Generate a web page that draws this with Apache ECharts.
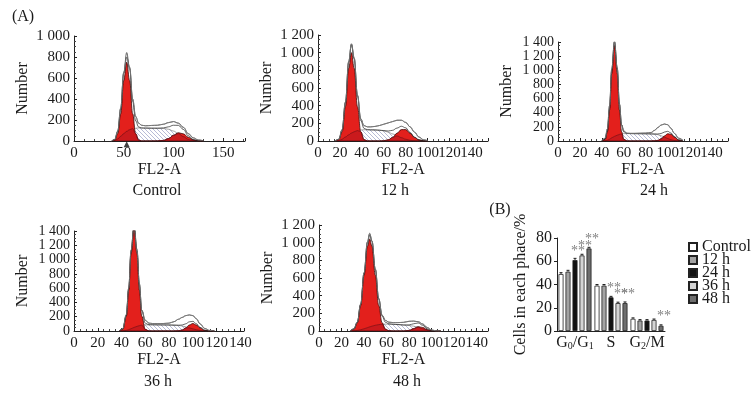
<!DOCTYPE html>
<html><head><meta charset="utf-8">
<script src="https://cdn.jsdelivr.net/npm/echarts@6/dist/echarts.min.js"></script>
<style>html,body{margin:0;padding:0;background:#fff}#c{width:753px;height:394px}</style>
</head><body><div id="c"></div>
<script>
// ---------- Panel A: histograms (x = FL2-A channel, y = count) ----------
const ctrlX   = [38, 41, 44, 47, 50, 53, 56, 59, 62, 65, 68, 72, 78, 84, 90, 95, 100, 105, 110, 115, 120, 125, 130];
const ctrlG1  = [0, 10, 70, 260, 575, 750, 575, 260, 70, 10, 0, 0, 0, 0, 0, 0, 0, 0, 0, 0, 0, 0, 0];
const ctrlS   = [0, 5, 20, 45, 70, 92, 108, 118, 122, 124, 124, 123, 122, 121, 119, 112, 95, 70, 42, 15, 3, 0, 0];
const ctrlG2  = [0, 0, 0, 0, 0, 0, 0, 0, 0, 0, 0, 0, 0, 1, 6, 23, 55, 79, 68, 35, 11, 2, 0];
const ctrlDat = [0, 15, 95, 315, 650, 800, 700, 400, 235, 170, 150, 145, 148, 150, 160, 175, 185, 170, 130, 70, 30, 10, 2];
const ctrlMarker = [53];

const h12X   = [16, 19, 22, 25, 28, 30.5, 33, 36, 39, 42, 45, 48, 52, 56, 60, 64, 68, 72, 76, 80, 84, 88, 92, 96, 100];
const h12G1  = [1, 16, 105, 389, 823, 1000, 823, 389, 105, 16, 1, 0, 0, 0, 0, 0, 0, 0, 0, 0, 0, 0, 0, 0, 0];
const h12S   = [0, 5, 20, 45, 70, 90, 105, 118, 125, 127, 127, 126, 125, 122, 115, 100, 80, 58, 38, 20, 8, 2, 0, 0, 0];
const h12G2  = [0, 0, 0, 0, 0, 0, 0, 0, 0, 0, 0, 0, 0, 0, 3, 13, 41, 88, 129, 129, 88, 41, 13, 3, 0];
const h12Dat = [2, 20, 130, 440, 900, 1100, 940, 520, 250, 175, 160, 160, 165, 175, 190, 205, 220, 235, 235, 210, 160, 100, 45, 15, 3];

const h24X   = [40, 43, 45, 47, 49, 51.5, 54, 56, 58, 60, 63, 66, 70, 75, 80, 85, 88, 91, 94, 97, 100, 103, 106, 110, 114];
const h24G1  = [1, 24, 129, 438, 954, 1350, 954, 438, 129, 24, 1, 0, 0, 0, 0, 0, 0, 0, 0, 0, 0, 0, 0, 0, 0];
const h24S   = [0, 3, 10, 25, 45, 65, 82, 93, 100, 104, 105, 105, 104, 103, 102, 100, 97, 90, 75, 55, 35, 18, 7, 1, 0];
const h24G2  = [0, 0, 0, 0, 0, 0, 0, 0, 0, 0, 0, 0, 0, 0, 0, 0, 2, 9, 31, 71, 102, 95, 57, 14, 2];
const h24Dat = [3, 40, 170, 500, 1020, 1400, 1030, 520, 230, 140, 110, 108, 108, 110, 112, 120, 150, 190, 225, 240, 230, 180, 110, 40, 8];

const h36X   = [38, 41, 44, 46, 48, 50.5, 53, 55, 57, 60, 63, 66, 70, 75, 80, 84, 88, 91, 94, 97, 100, 103, 106, 110, 114, 118];
const h36G1  = [1, 23, 207, 569, 1081, 1440, 1081, 569, 207, 23, 1, 0, 0, 0, 0, 0, 0, 0, 0, 0, 0, 0, 0, 0, 0, 0];
const h36S   = [0, 2, 8, 18, 32, 50, 65, 75, 82, 86, 87, 87, 86, 85, 84, 82, 78, 70, 58, 44, 30, 17, 8, 2, 0, 0];
const h36G2  = [0, 0, 0, 0, 0, 0, 0, 0, 0, 0, 0, 0, 0, 0, 0, 0, 3, 14, 43, 84, 105, 84, 43, 9, 1, 0];
const h36Dat = [2, 30, 230, 600, 1130, 1470, 1120, 660, 290, 150, 110, 105, 105, 105, 110, 130, 165, 190, 215, 225, 215, 170, 100, 35, 8, 1];

const h48X   = [28, 31, 34, 37, 40, 43, 45, 47, 50, 53, 56, 59, 62, 66, 70, 75, 80, 84, 88, 92, 96, 100, 104, 108];
const h48G1  = [3, 21, 92, 289, 631, 960, 1040, 960, 631, 289, 92, 21, 3, 0, 0, 0, 0, 0, 0, 0, 0, 0, 0, 0];
const h48S   = [0, 2, 6, 14, 25, 38, 47, 55, 65, 72, 77, 78, 78, 76, 73, 68, 62, 55, 42, 25, 10, 3, 0, 0];
const h48G2  = [0, 0, 0, 0, 0, 0, 0, 0, 0, 0, 0, 0, 0, 0, 0, 0, 7, 27, 49, 40, 15, 3, 0, 0];
const h48Dat = [3, 25, 100, 305, 660, 1010, 1105, 1020, 700, 370, 180, 120, 100, 95, 95, 98, 110, 112, 105, 80, 40, 12, 2, 0];

const panelTitles = ['Control', '12 h', '24 h', '36 h', '48 h'];
const xMax   = [172, 155, 155, 143, 150];
const xStep  = [50, 20, 20, 20, 20];
const yMax   = [1000, 1200, 1400, 1400, 1200];

// ---------- Panel B: cell cycle distribution (%) ----------
const phases = ['G0/G1', 'S', 'G2/M'];
const groups = ['Control', '12 h', '24 h', '36 h', '48 h'];
const pctControl = [49, 39, 10.5];
const pct12h     = [51, 39, 9];
const pct24h     = [61, 29, 9];
const pct36h     = [65, 24, 9.5];
const pct48h     = [71, 24, 4.5];
const errControl = [1.2, 1.0, 0.8];
const err12h     = [1.2, 1.0, 0.8];
const err24h     = [1.5, 0.8, 0.8];
const err36h     = [1.0, 0.8, 0.8];
const err48h     = [1.0, 1.0, 0.8];
const sigControl = ['', '', ''];
const sig12h     = ['', '', ''];
const sig24h     = ['**', '**', ''];
const sig36h     = ['**', '**', ''];
const sig48h     = ['**', '**', '**'];

// ---------- chart ----------
const F = '"Liberation Serif","Times New Roman",serif';
const TXT = '#1a1a1a';

function hatchCanvas() {
  const c = document.createElement('canvas'); c.width = 4; c.height = 4;
  const g = c.getContext('2d');
  g.fillStyle = '#fff'; g.fillRect(0, 0, 4, 4);
  g.strokeStyle = '#a4a9cc'; g.lineWidth = 0.8;
  g.beginPath();
  g.moveTo(0, 0); g.lineTo(4, 4);
  g.moveTo(-1, 3); g.lineTo(1, 5);
  g.moveTo(3, -1); g.lineTo(5, 1);
  g.stroke();
  return c;
}
const hatch = hatchCanvas();

const gridsA = [
  {left: 74, top: 36, width: 171, height: 105},
  {left: 318, top: 35, width: 170, height: 106},
  {left: 558, top: 42, width: 170, height: 99},
  {left: 74, top: 231, width: 170, height: 100},
  {left: 319, top: 225, width: 169, height: 106}
];
const gridB = {left: 557, top: 238, width: 108, height: 93};

function thousands(v) {
  if (v >= 1000) { const r = v % 1000; return Math.floor(v / 1000) + ' ' + String(r).padStart(3, '0'); }
  return String(v);
}

const xAxes = [], yAxes = [], series = [];
const panels = [
  [ctrlX, ctrlG1, ctrlS, ctrlG2, ctrlDat],
  [h12X, h12G1, h12S, h12G2, h12Dat],
  [h24X, h24G1, h24S, h24G2, h24Dat],
  [h36X, h36G1, h36S, h36G2, h36Dat],
  [h48X, h48G1, h48S, h48G2, h48Dat]
];
panels.forEach((p, i) => {
  const [xs, g1, s, g2, dat] = p;
  xAxes.push({
    gridIndex: i, type: 'value', min: 0, max: xMax[i], interval: xStep[i],
    name: 'FL2-A', nameLocation: 'middle', nameGap: i < 3 ? 19 : 21,
    nameTextStyle: {fontFamily: F, fontSize: 16, color: TXT},
    axisLine: {lineStyle: {color: '#222', width: 1}},
    axisTick: {inside: true, length: 3, lineStyle: {color: '#222'}},
    minorTick: {show: true, splitNumber: i === 0 ? 5 : 4, length: 2, lineStyle: {color: '#444'}},
    axisLabel: {showMaxLabel: false, hideOverlap: false, margin: 5, fontFamily: F, fontSize: 15, color: TXT},
    splitLine: {show: false}
  });
  yAxes.push({
    gridIndex: i, type: 'value', min: 0, max: yMax[i], interval: 200,
    name: 'Number', nameLocation: 'middle', nameGap: 43,
    nameTextStyle: {fontFamily: F, fontSize: 16, color: TXT},
    axisLine: {show: true, lineStyle: {color: '#222', width: 1}},
    axisTick: {show: true, inside: true, length: 3, lineStyle: {color: '#222'}},
    minorTick: {show: true, splitNumber: 4, length: 2, lineStyle: {color: '#444'}},
    axisLabel: {margin: 4, hideOverlap: false, fontFamily: F, fontSize: yMax[i] > 1200 ? 14 : 15, lineHeight: 13, color: TXT, formatter: thousands},
    splitLine: {show: false}
  });
  const pts = a => xs.map((x, j) => [x, a[j]]);
  const ov = xs.map((x, j) => Math.min(s[j], Math.max(g1[j], g2[j])));
  const fit = xs.map((x, j) => g1[j] + s[j] + g2[j]);
  const base = {type: 'line', xAxisIndex: i, yAxisIndex: i, symbol: 'none', smooth: 0.4, smoothMonotone: 'x', silent: true, animation: false};
  series.push(
    Object.assign({}, base, {data: pts(dat), lineStyle: {color: '#777', width: 1}, areaStyle: {color: '#fff', opacity: 1}, z: 1}),
    Object.assign({}, base, {data: pts(s), lineStyle: {color: '#666', width: 0.6}, areaStyle: {color: {image: hatch, repeat: 'repeat'}, opacity: 1}, z: 2}),
    Object.assign({}, base, {data: pts(g1), lineStyle: {color: '#3a0808', width: 0.8}, areaStyle: {color: '#e3201c', opacity: 1}, z: 3}),
    Object.assign({}, base, {data: pts(g2), lineStyle: {color: '#3a0808', width: 0.8}, areaStyle: {color: '#e3201c', opacity: 1}, z: 3}),
    Object.assign({}, base, {data: pts(ov), lineStyle: {color: '#6a1018', width: 0.6}, areaStyle: {color: '#9a1020', opacity: 0.35}, z: 4}),
    Object.assign({}, base, {data: pts(fit), lineStyle: {color: '#222', width: 0.7}, z: 5}),
    Object.assign({}, base, {data: pts(dat), lineStyle: {color: '#777', width: 0.9}, z: 6})
  );
});
// marker triangle under the control G1 peak
series.push({type: 'scatter', xAxisIndex: 0, yAxisIndex: 0, clip: false, silent: true, symbol: 'triangle', symbolSize: 6,
  itemStyle: {color: '#111'}, data: ctrlMarker.map(x => [x, -32]), z: 7});

// Panel B axes
xAxes.push({
  gridIndex: 5, type: 'category', data: phases,
  axisLine: {lineStyle: {color: '#222', width: 1}}, axisTick: {show: false},
  axisLabel: {interval: 0, hideOverlap: false, margin: 4, color: TXT, fontFamily: F, fontSize: 16,
    formatter: v => v === 'G0/G1' ? 'G{s|0}/G{s|1}' : (v === 'G2/M' ? 'G{s|2}/M' : v),
    rich: {s: {fontSize: 10, fontFamily: F, color: TXT, verticalAlign: 'bottom', lineHeight: 10}}}
});
yAxes.push({
  gridIndex: 5, type: 'value', min: 0, max: 80, interval: 20,
  name: 'Cells in each phace/%', nameLocation: 'middle', nameGap: 28,
  nameTextStyle: {fontFamily: F, fontSize: 16, color: TXT},
  axisLine: {show: true, lineStyle: {color: '#222', width: 1}},
  axisTick: {show: true, length: 3, lineStyle: {color: '#222'}},
  axisLabel: {margin: 5, fontFamily: F, fontSize: 16, color: TXT},
  splitLine: {show: false}
});
const pctAll = [pctControl, pct12h, pct24h, pct36h, pct48h];
const errAll = [errControl, err12h, err24h, err36h, err48h];
const sigAll = [sigControl, sig12h, sig24h, sig36h, sig48h];
const barColors = ['#ffffff', '#a3a3a3', '#111111', '#d4d4d4', '#6e6e6e'];
groups.forEach((g, k) => {
  series.push({
    type: 'bar', name: g, xAxisIndex: 5, yAxisIndex: 5, data: pctAll[k],
    barWidth: 5, barGap: '40%', animation: false,
    itemStyle: {color: barColors[k], borderColor: '#222', borderWidth: 0.8},
    label: {show: true, position: 'top', distance: 2, offset: [3, 0], formatter: p => sigAll[k][p.dataIndex],
      color: '#808080', fontSize: 14, fontFamily: F}
  });
});
const errData = [];
groups.forEach((g, k) => phases.forEach((ph, c) => errData.push([c, pctAll[k][c], errAll[k][c], k])));
series.push({
  type: 'custom', xAxisIndex: 5, yAxisIndex: 5, data: errData, silent: true, animation: false, z: 5,
  encode: {x: 0, y: 1},
  renderItem: (params, api) => {
    const c = api.value(0), v = api.value(1), e = api.value(2), k = api.value(3);
    const p0 = api.coord([c, v]), p1 = api.coord([c, v + e]);
    const x = p0[0] + (k - 2) * 7;
    return {type: 'group', children: [
      {type: 'line', shape: {x1: x, y1: p0[1], x2: x, y2: p1[1]}, style: {stroke: '#222', lineWidth: 1}},
      {type: 'line', shape: {x1: x - 1.5, y1: p1[1], x2: x + 1.5, y2: p1[1]}, style: {stroke: '#222', lineWidth: 1}}
    ]};
  }
});

const textEl = (t, x, y) => ({type: 'text', x, y, style: {text: t, fill: TXT, font: '16px ' + F, textAlign: 'center', textVerticalAlign: 'middle'}});
const chart = echarts.init(document.getElementById('c'), null, {renderer: 'canvas'});
chart.setOption({
  backgroundColor: '#fff',
  animation: false,
  grid: gridsA.concat([gridB]),
  xAxis: xAxes,
  yAxis: yAxes,
  legend: {
    data: groups, orient: 'vertical', left: 683, top: 234, itemWidth: 8, itemHeight: 8, itemGap: -3,
    icon: 'rect', textStyle: {fontFamily: F, fontSize: 16, color: TXT, lineHeight: 12}, selectedMode: false
  },
  graphic: [
    textEl('(A)', 23, 17),
    textEl('(B)', 500, 210),
    textEl(panelTitles[0], 157, 191),
    textEl(panelTitles[1], 395, 191),
    textEl(panelTitles[2], 654, 191),
    textEl(panelTitles[3], 158, 382),
    textEl(panelTitles[4], 407, 382)
  ],
  series
});
</script></body></html>
